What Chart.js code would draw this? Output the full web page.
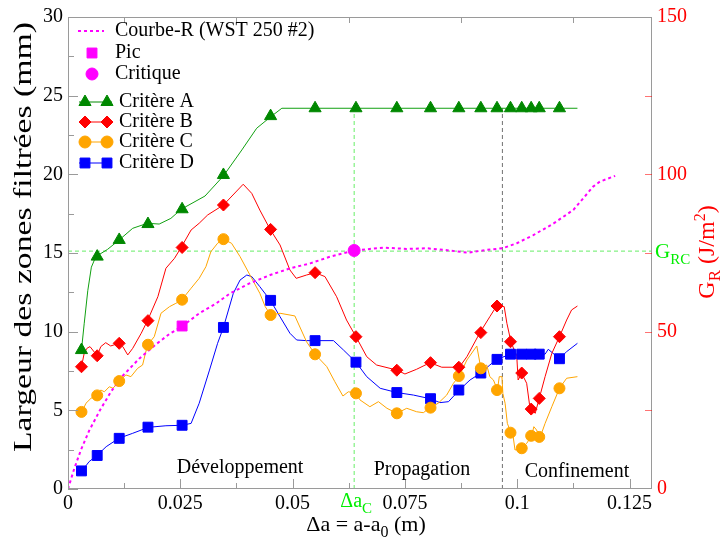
<!DOCTYPE html>
<html>
<head>
<meta charset="utf-8">
<title>Largeur des zones filtrées</title>
<script src="https://cdn.jsdelivr.net/npm/chart.js"></script>
<style>
    body { margin: 0; background: #fff; }
    #chart { display: block; }
</style>
</head>
<body>
<canvas id="chart" width="721" height="539"></canvas>
<script>
    // positions des marqueurs (m)
    const markX = [0.0030, 0.0065, 0.0114, 0.0178, 0.0254, 0.0346, 0.0451, 0.0550, 0.0641, 0.0732,
                   0.0807, 0.0870, 0.0919, 0.0955, 0.0985, 0.1010, 0.1031, 0.1049, 0.1094];
    const critA = [8.83, 14.77, 15.83, 16.84, 17.78, 19.96, 23.7, 24.2, 24.2, 24.2,
                   24.2, 24.2, 24.2, 24.2, 24.2, 24.2, 24.2, 24.2, 24.2];
    const critB = [7.77, 8.47, 9.26, 10.7, 15.35, 18.05, 16.5, 13.75, 9.68, 7.55,
                   8.03, 7.74, 9.94, 11.63, 9.36, 7.37, 5.08, 5.76, 9.68];
    const critC = [4.9, 5.95, 6.86, 9.17, 12.03, 15.88, 11.06, 8.56, 6.08, 4.81,
                   5.17, 7.18, 7.67, 6.29, 3.58, 2.59, 3.38, 3.31, 6.4];
    const critD = [1.15, 2.13, 3.22, 3.93, 4.05, 10.27, 11.99, 9.43, 8.06, 6.13,
                   5.74, 6.29, 7.37, 8.24, 8.57, 8.57, 8.57, 8.57, 8.28];

    // courbes fines (mesures)
    const lineAX = [0.0030, 0.0036, 0.0044, 0.0052, 0.0062, 0.0088, 0.0114, 0.0144, 0.0177, 0.0203,
                    0.0229, 0.0252, 0.0305, 0.0346, 0.0387, 0.0420, 0.0450, 0.0476, 0.1134];
    const lineAY = [8.83, 10.5, 12.6, 14.1, 14.77, 15.23, 15.83, 16.57, 16.89, 16.84,
                    17.2, 17.78, 18.62, 19.9, 21.55, 22.93, 23.63, 24.2, 24.2];

    const lineBX = [0.0030, 0.0036, 0.0042, 0.0049, 0.0065, 0.0073, 0.0084, 0.0095, 0.0113, 0.0122,
                    0.0133, 0.0144, 0.0163, 0.0177, 0.0200, 0.0218, 0.0237, 0.0252, 0.0274, 0.0292,
                    0.0311, 0.0346, 0.0390, 0.0409, 0.0427, 0.0450, 0.0472, 0.0494, 0.0508, 0.0531,
                    0.0550, 0.0572, 0.0598, 0.0620, 0.0641, 0.0665, 0.0687, 0.0732, 0.0750, 0.0776,
                    0.0806, 0.0832, 0.0871, 0.0888, 0.0917, 0.0939, 0.0954, 0.0971, 0.0977, 0.0986,
                    0.0999, 0.1002, 0.1010, 0.1021, 0.1029, 0.1032, 0.1040, 0.1049, 0.1062, 0.1077,
                    0.1094, 0.1110, 0.1121, 0.1134];
    const lineBY = [7.77, 8.62, 8.94, 9.05, 8.47, 9.05, 9.3, 9.09, 9.26, 9.05,
                    8.52, 8.94, 9.9, 10.7, 12.22, 14.03, 14.66, 15.36, 16.46, 16.89,
                    17.42, 18.05, 19.37, 18.79, 17.73, 16.5, 15.51, 13.92, 13.39, 13.6,
                    13.75, 13.5, 12.22, 10.74, 9.68, 8.41, 7.88, 7.56, 7.31, 7.61,
                    8.03, 7.74, 7.74, 8.41, 9.94, 10.95, 11.63, 11.59, 10.53, 9.36,
                    8.41, 6.93, 7.35, 6.72, 5.02, 5.08, 4.81, 5.76, 7.14, 8.62,
                    9.68, 10.74, 11.38, 11.63];

    const lineCX = [0.0031, 0.0040, 0.0051, 0.0064, 0.0073, 0.0081, 0.0092, 0.0100, 0.0114, 0.0129,
                    0.0140, 0.0155, 0.0166, 0.0177, 0.0192, 0.0207, 0.0226, 0.0240, 0.0253, 0.0274,
                    0.0292, 0.0307, 0.0318, 0.0333, 0.0346, 0.0364, 0.0383, 0.0405, 0.0427, 0.0439,
                    0.0451, 0.0472, 0.0505, 0.0531, 0.0550, 0.0576, 0.0594, 0.0612, 0.0624, 0.0641,
                    0.0650, 0.0672, 0.0691, 0.0710, 0.0732, 0.0754, 0.0776, 0.0791, 0.0806, 0.0824,
                    0.0843, 0.0858, 0.0871, 0.0888, 0.0910, 0.0919, 0.0932, 0.0939, 0.0947, 0.0956,
                    0.0960, 0.0966, 0.0968, 0.0973, 0.0978, 0.0986, 0.0991, 0.0995, 0.1010, 0.1021,
                    0.1032, 0.1037, 0.1043, 0.1051, 0.1062, 0.1077, 0.1094, 0.1110, 0.1134];
    const lineCY = [4.91, 5.45, 5.76, 5.97, 6.29, 6.18, 6.5, 6.4, 6.86, 7.25,
                    7.14, 7.67, 7.88, 9.15, 9.68, 11.17, 11.59, 11.8, 12.01, 12.76,
                    13.39, 14.13, 15.08, 15.62, 15.87, 15.62, 14.77, 13.6, 12.44, 11.59,
                    11.06, 11.17, 11.0, 9.36, 8.56, 7.78, 6.82, 5.91, 6.18, 6.08,
                    5.66, 5.23, 5.55, 5.13, 4.81, 5.13, 4.91, 4.85, 5.17, 5.45,
                    5.97, 6.72, 7.18, 8.2, 9.09, 7.67, 7.88, 7.14, 6.93, 6.29,
                    7.14, 7.14, 6.08, 5.45, 4.17, 3.58, 3.32, 2.48, 2.59, 2.9,
                    3.37, 3.96, 3.75, 3.29, 4.17, 5.23, 6.4, 7.04, 7.14];

    const lineDX = [0.0031, 0.0047, 0.0064, 0.0085, 0.0113, 0.0144, 0.0179, 0.0218, 0.0254, 0.0274,
                    0.0292, 0.0315, 0.0333, 0.0346, 0.0368, 0.0383, 0.0398, 0.0409, 0.0427, 0.0451,
                    0.0472, 0.0494, 0.0509, 0.0531, 0.0550, 0.0591, 0.0613, 0.0641, 0.0665, 0.0695,
                    0.0732, 0.0769, 0.0806, 0.0828, 0.0847, 0.0871, 0.0895, 0.0919, 0.0939, 0.0955,
                    0.0985, 0.1062, 0.1069, 0.1094, 0.1110, 0.1134];
    const lineDY = [1.14, 1.74, 2.12, 2.69, 3.22, 3.54, 3.92, 4.02, 4.05, 4.17,
                    5.45, 7.56, 9.26, 10.27, 12.44, 13.28, 13.6, 13.5, 12.86, 11.97,
                    10.95, 9.9, 9.47, 9.43, 9.43, 9.43, 8.84, 8.06, 7.14, 6.4,
                    6.13, 5.97, 5.74, 5.49, 5.55, 6.29, 6.93, 7.37, 7.88, 8.24,
                    8.57, 8.57, 8.88, 8.28, 8.73, 9.26];

    // Courbe-R, G_R en J/m2
    const courbeRX = [0, 0.0014, 0.0029, 0.0047, 0.0071, 0.0096, 0.0122, 0.0159, 0.0196, 0.0226,
                      0.0255, 0.0292, 0.0330, 0.0361, 0.0405, 0.0450, 0.0494, 0.0539, 0.0583, 0.0613,
                      0.0637, 0.0702, 0.0754, 0.0799, 0.0836, 0.0891, 0.0932, 0.0967, 0.0999, 0.1036,
                      0.1081, 0.1125, 0.1169, 0.1184, 0.1218];
    const courbeRY = [0, 6.5, 12.5, 18.5, 25, 31, 36, 41.5, 46, 49.3,
                      51.8, 55.8, 59, 62.2, 65.4, 68, 70.1, 71.7, 73.8, 74.9,
                      75.8, 76.7, 76.3, 76.5, 76, 75.1, 76, 76.5, 78.1, 80.7,
                      84.4, 88.7, 96.1, 97.7, 99.5];

    const picX = [0.0254], picY = [51.8];
    const critiqueX = [0.0637], critiqueY = [75.8];
    const gRC = 75.6;          // J/m2
    const deltaAc = 0.0637;    // m
    const confX = 0.0967;      // m
    const plateauA = 24.2;     // mm

    const serif = '"Liberation Serif", "Times New Roman", serif';
    const GREEN = '#008800', RED = '#ff0000', ORANGE = '#ffa500', BLUE = '#0000ff', MAGENTA = '#ff00ff';
    const LIME = '#00ee00';

    function pts(xs, ys) {
        return xs.map((x, i) => ({ x: x, y: ys[i] }));
    }

    function thinLine(xs, ys, color) {
        return { data: pts(xs, ys), borderColor: color, borderWidth: 1, pointRadius: 0, showLine: true, order: 2 };
    }

    function markers(ys, color, style, r) {
        return { data: pts(markX, ys), showLine: false, pointStyle: style, pointRadius: r,
                 backgroundColor: color, borderColor: color, borderWidth: 1, order: 0 };
    }

    // texte avec indices / exposants : [texte, taille, decalage]
    function richWidth(c, parts) {
        let w = 0;
        parts.forEach(p => { c.font = p[1] + 'px ' + serif; w += c.measureText(p[0]).width; });
        return w;
    }
    function richText(c, parts, x, y, color, align) {
        const w = richWidth(c, parts);
        let cx = align === 'left' ? x : x - w / 2;
        c.fillStyle = color;
        c.textAlign = 'left';
        c.textBaseline = 'alphabetic';
        parts.forEach(p => {
            c.font = p[1] + 'px ' + serif;
            c.fillText(p[0], cx, y + p[2]);
            cx += c.measureText(p[0]).width;
        });
    }

    const decor = {
        id: 'decor',
        afterDraw(chart) {
            const c = chart.ctx, a = chart.chartArea;
            const sx = chart.scales.x, sy = chart.scales.y, sr = chart.scales.y2;
            c.save();

            // cadre
            c.strokeStyle = '#9a9a9a';
            c.lineWidth = 1;
            c.setLineDash([]);
            c.strokeRect(a.left + 0.5, a.top + 0.5, a.right - a.left - 1, a.bottom - a.top - 1);

            // graduations vers l'interieur
            c.beginPath();
            for (let i = 0; i <= 10; i++) {
                const px = Math.round(sx.getPixelForValue(i * 0.0125)) + 0.5;
                const len = i % 2 === 0 ? 10 : 6;
                c.moveTo(px, a.bottom);
                c.lineTo(px, a.bottom - len);
                if (i % 2 === 1) {
                    c.moveTo(px, a.top);
                    c.lineTo(px, a.top + 6);
                }
            }
            for (let i = 0; i <= 12; i++) {
                const py = Math.round(sy.getPixelForValue(i * 2.5)) + 0.5;
                const len = i % 2 === 0 ? 10 : 6;
                c.moveTo(a.left, py);
                c.lineTo(a.left + len, py);
            }
            c.stroke();
            c.strokeStyle = 'rgba(255,0,0,0.55)';
            c.beginPath();
            for (let i = 1; i < 6; i++) {
                const py = Math.round(sr.getPixelForValue(i * 25)) + 0.5;
                c.moveTo(a.right, py);
                c.lineTo(a.right - 7, py);
            }
            c.stroke();

            // legende
            const lx = 115;
            c.font = '20px ' + serif;
            c.textBaseline = 'middle';
            c.textAlign = 'left';
            c.strokeStyle = MAGENTA;
            c.lineWidth = 2;
            c.setLineDash([3, 3]);
            c.beginPath();
            c.moveTo(78, 31);
            c.lineTo(104, 31);
            c.stroke();
            c.setLineDash([]);
            c.fillStyle = '#000';
            c.fillText('Courbe-R (WST 250 #2)', lx, 31);

            const drawP = (style, r, color, x, y) => {
                c.fillStyle = color;
                c.strokeStyle = color;
                c.lineWidth = 1;
                Chart.helpers.drawPoint(c, { pointStyle: style, radius: r, rotation: 0, borderWidth: 1 }, x, y);
            };
            drawP('rect', 7, MAGENTA, 92, 53);
            c.fillStyle = '#000';
            c.fillText('Pic', lx, 53);
            drawP('circle', 6, MAGENTA, 92, 74);
            c.fillStyle = '#000';
            c.fillText('Critique', lx, 74);

            const crit = [['Critère A', GREEN, 'triangle', 7, 102],
                          ['Critère B', RED, 'rectRot', 6, 122],
                          ['Critère C', ORANGE, 'circle', 6, 142],
                          ['Critère D', BLUE, 'rect', 7, 163]];
            crit.forEach(e => {
                c.strokeStyle = e[1];
                c.lineWidth = 1;
                c.beginPath();
                c.moveTo(79, e[4]);
                c.lineTo(112, e[4]);
                c.stroke();
                drawP(e[2], e[3], e[1], 85, e[4]);
                drawP(e[2], e[3], e[1], 107, e[4]);
                c.fillStyle = '#000';
                c.font = '20px ' + serif;
                c.textBaseline = 'middle';
                c.fillText(e[0], 119, e[4]);
            });

            // phases
            c.fillStyle = '#000';
            c.textAlign = 'center';
            c.font = '20px ' + serif;
            c.fillText('Développement', sx.getPixelForValue(0.0383), sy.getPixelForValue(1.33));
            c.fillText('Propagation', sx.getPixelForValue(0.0788), sy.getPixelForValue(1.2));
            c.fillText('Confinement', sx.getPixelForValue(0.1133), sy.getPixelForValue(1.08));

            // delta a_C et G_RC
            richText(c, [['Δa', 20, 0], ['C', 15, 6]], sx.getPixelForValue(deltaAc) + 2, 507, LIME);
            richText(c, [['G', 21, 0], ['RC', 15, 6]], a.right + 3, sr.getPixelForValue(gRC) + 7, LIME, 'left');

            // titres des axes
            richText(c, [['Δa = a-a', 22, 0], ['0', 16, 6], [' (m)', 22, 0]], 366, 531, '#000');

            // titre gauche, etire sur la hauteur du graphe
            const ltitle = [['Largeur des zones filtrées (mm)', 25, 0]];
            const lw = richWidth(c, ltitle);
            c.save();
            c.translate(31, 237);
            c.rotate(-Math.PI / 2);
            c.scale(430 / lw, 1);
            richText(c, ltitle, 0, 0, '#000');
            c.restore();

            c.save();
            c.translate(714, 252);
            c.rotate(-Math.PI / 2);
            richText(c, [['G', 24, 0], ['R', 17, 6], [' (J/m', 24, 0], ['2', 16, -9], [')', 24, 0]], 0, 0, RED);
            c.restore();

            c.restore();
        }
    };

    const chart = new Chart(document.getElementById('chart'), {
        type: 'scatter',
        data: {
            datasets: [
                markers(critA, GREEN, 'triangle', 7),
                markers(critB, RED, 'rectRot', 6),
                markers(critC, ORANGE, 'circle', 5.5),
                markers(critD, BLUE, 'rect', 7),
                { data: pts(picX, picY), yAxisID: 'y2', pointStyle: 'rect', pointRadius: 7,
                  backgroundColor: MAGENTA, borderColor: MAGENTA, showLine: false, order: 0 },
                { data: pts(critiqueX, critiqueY), yAxisID: 'y2', pointStyle: 'circle', pointRadius: 6,
                  backgroundColor: MAGENTA, borderColor: MAGENTA, showLine: false, order: 0 },
                thinLine(lineAX, lineAY, '#11a011'),
                thinLine(lineBX, lineBY, RED),
                thinLine(lineCX, lineCY, ORANGE),
                thinLine(lineDX, lineDY, BLUE),
                { data: pts(courbeRX, courbeRY), yAxisID: 'y2', borderColor: MAGENTA, borderWidth: 2,
                  borderDash: [3, 3], pointRadius: 0, showLine: true, order: 1 },
                { data: [{ x: 0, y: gRC }, { x: 0.13, y: gRC }], yAxisID: 'y2', borderColor: '#66ee66',
                  borderWidth: 1, borderDash: [4, 3], pointRadius: 0, showLine: true, order: 3 },
                { data: [{ x: deltaAc, y: 0 }, { x: deltaAc, y: plateauA }], borderColor: '#66ee66',
                  borderWidth: 1, borderDash: [4, 3], pointRadius: 0, showLine: true, order: 3 },
                { data: [{ x: confX, y: 0 }, { x: confX, y: plateauA }], borderColor: '#707070',
                  borderWidth: 1, borderDash: [4, 3], pointRadius: 0, showLine: true, order: 3 }
            ]
        },
        options: {
            responsive: false,
            animation: false,
            devicePixelRatio: 1,
            layout: { padding: { top: 17, left: 0, right: 0, bottom: 0 } },
            plugins: { legend: { display: false }, tooltip: { enabled: false } },
            scales: {
                x: {
                    type: 'linear', position: 'bottom', min: 0, max: 0.13,
                    afterFit: s => { s.height = 50; },
                    border: { display: false },
                    grid: { drawOnChartArea: false, drawTicks: false },
                    ticks: {
                        stepSize: 0.025, includeBounds: false, maxRotation: 0, autoSkip: false, padding: 3,
                        color: '#000', font: { family: serif, size: 20 },
                        callback: v => String(+v.toFixed(3))
                    }
                },
                y: {
                    type: 'linear', position: 'left', min: 0, max: 30,
                    afterFit: s => { s.width = 68; },
                    border: { display: false },
                    grid: { drawOnChartArea: false, drawTicks: false },
                    ticks: { stepSize: 5, padding: 5, color: '#000', font: { family: serif, size: 20 } }
                },
                y2: {
                    type: 'linear', position: 'right', min: 0, max: 150,
                    afterFit: s => { s.width = 69; },
                    border: { display: false },
                    grid: { drawOnChartArea: false, drawTicks: false },
                    ticks: { stepSize: 50, padding: 5, color: RED, font: { family: serif, size: 20 } }
                }
            }
        },
        plugins: [decor]
    });
</script>
</body>
</html>
